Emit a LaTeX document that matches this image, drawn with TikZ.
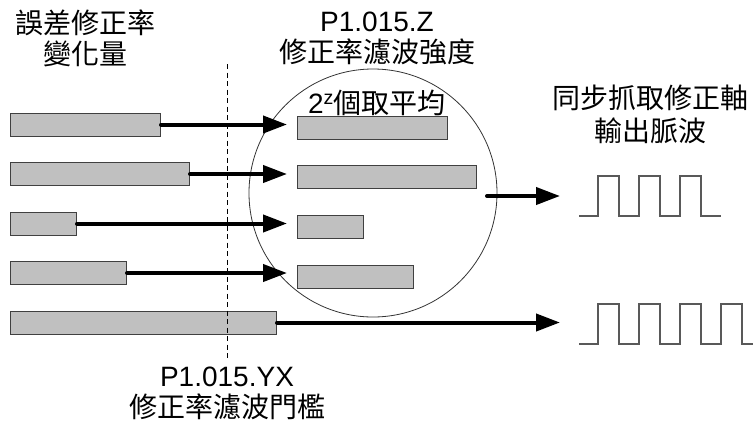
\documentclass[tikz,border=0pt]{standalone}
\usepackage{fontspec}
\setmainfont{Liberation Sans}
\newfontfamily\cjkfont{Noto Sans CJK TC}
\usetikzlibrary{arrows.meta,positioning,calc}

\definecolor{barfill}{HTML}{C0C0C0}
\definecolor{barline}{HTML}{404040}

\begin{document}
\begin{tikzpicture}[
  x=1pt, y=-1pt,
  every node/.style={font=\fontsize{28}{31}\selectfont},
  bar/.style={draw=barline, fill=barfill, line width=1pt, anchor=west,
              minimum height=23pt, inner sep=0pt},
  flow/.style={line width=4pt, line cap=round, -{Triangle[length=24pt,width=17pt]}},
  pulse/.style={draw=black!65, line width=1.2pt},
  lbl/.style={align=center, inner sep=0pt},
]
\useasboundingbox (0,0) rectangle (753,424);

% averaging window
\node[draw=black!80, line width=0.8pt, circle, minimum size=248pt, inner sep=0pt]
  (win) at (373,193) {};

% incoming correction values
\node[bar, minimum width=150pt] (in1) at (10,124.5) {};
\node[bar, minimum width=179pt] (in2) at (10,174) {};
\node[bar, minimum width=66pt]  (in3) at (10,223.5) {};
\node[bar, minimum width=116pt] (in4) at (10,273) {};
\node[bar, minimum width=266pt] (in5) at (10,322.5) {};

% values kept for averaging
\node[bar, minimum width=150pt] (av1) at (297,127.5) {};
\node[bar, minimum width=179pt] (av2) at (297,177) {};
\node[bar, minimum width=66pt]  (av3) at (297,226.5) {};
\node[bar, minimum width=116pt] (av4) at (297,276.5) {};

% threshold line
\coordinate (thtop) at (227,64);
\coordinate (thbot) at (227,360);
\draw[line width=0.8pt, dash pattern=on 5pt off 3.5pt] (thtop) -- (thbot);

% output pulse trains
\coordinate (p1) at (579,216);
\coordinate (p2) at (579,344);
\draw[pulse] (p1) -- ++(19,0)
  foreach \k in {1,2,3} { -- ++(0,-40) -- ++(21,0) -- ++(0,40) -- ++(20,0) };
\draw[pulse] (p2) -- ++(19,0)
  foreach \k in {1,2,3} { -- ++(0,-40) -- ++(21,0) -- ++(0,40) -- ++(20,0) }
  -- ++(0,-40) -- ++(21,0) -- ++(0,40) -- ++(11,0);

% arrows
\foreach \i in {1,2,3,4}
  \draw[flow, shorten >=10pt] (in\i.east) -- (in\i.east -| av\i.west);
\coordinate (wout) at (487,196);
\draw[flow, shorten >=19pt] (wout) -- (wout -| p1);
\draw[flow, shorten >=19pt] (in5.east) -- (in5.east -| p2);

% labels
\node[lbl] (lblin) at (86,38) {\cjkfont 誤差修正率\\\cjkfont 變化量};
\node[lbl] (lblz) at (377,38) {P1.015.Z\\\cjkfont 修正率濾波強度};
\node[lbl] (lblavg) at (377,103) {2\textsuperscript{z}\cjkfont 個取平均};
\node[lbl] (lblout) at (650,114) {\cjkfont 同步抓取修正軸\\[2pt]\cjkfont 輸出脈波};
\node[lbl] (lblyx) at (227,393) {P1.015.YX\\\cjkfont 修正率濾波門檻};
\end{tikzpicture}
\end{document}
